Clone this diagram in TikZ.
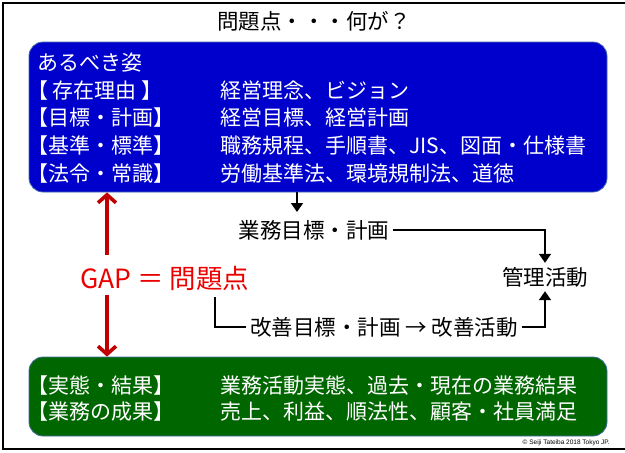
\documentclass[tikz,border=0pt]{standalone}
\usepackage{fontspec}
\setmainfont{Noto Sans CJK JP}
\newfontfamily\notefont{Liberation Sans}
\usetikzlibrary{arrows.meta,positioning}
\definecolor{idealblue}{RGB}{0,0,204}
\definecolor{actualgreen}{RGB}{0,102,0}
\definecolor{boxedge}{RGB}{70,110,170}
\definecolor{gapred}{RGB}{235,0,0}
\definecolor{arrowred}{RGB}{192,0,0}

\begin{document}
\begin{tikzpicture}[x=1pt,y=-1pt]
\tikzstyle{panel}=[draw=boxedge,line width=0.8pt,rounded corners=14pt,minimum width=578pt,inner sep=0pt]
\tikzstyle{boxtext}=[text=white,anchor=west,inner sep=0pt,font=\fontsize{21}{24}\selectfont]
\tikzstyle{flowtext}=[font=\fontsize{21.5}{26}\selectfont,inner sep=4pt]
\tikzstyle{flow}=[line width=1.8pt,-{Triangle[length=9pt,width=12pt]}]
\tikzstyle{gaparrow}=[draw=arrowred,line width=3.6pt,-{Straight Barb[length=8pt,width=18pt]}]

\useasboundingbox (0,0) rectangle (625,453);
\draw[line width=2pt] (625,3) -- (3,3) -- (3,449) -- (625,449);

\node (title) at (314,21) [font=\fontsize{21.5}{26}\selectfont] {問題点・・・何が？};

% ideal state
\node [panel,fill=idealblue,minimum height=150pt] (ideal) at (318,117) {};
\node [boxtext] (ideal0) at (37,63) {あるべき姿};
\node [boxtext] (reason) at (27,91) {【 存在理由 】};
\node [boxtext] (goal) at (27,118) {【目標・計画】};
\node [boxtext] (norm) at (27,146) {【基準・標準】};
\node [boxtext] (law) at (27,174) {【法令・常識】};
\node [boxtext] (reasonv) at (220,91) {経営理念、ビジョン};
\node [boxtext] (goalv) at (220,118) {経営目標、経営計画};
\node [boxtext] (normv) at (220,146) {職務規程、手順書、JIS、図面・仕様書};
\node [boxtext] (lawv) at (220,174) {労働基準法、環境規制法、道徳};

% actual state
\node [panel,fill=actualgreen,minimum height=79pt] (actual) at (318,396.5) {};
\node [boxtext] (fact) at (27,386) {【実態・結果】};
\node [boxtext] (outcome) at (27,412) {【業務の成果】};
\node [boxtext] (factv) at (220,386) {業務活動実態、過去・現在の業務結果};
\node [boxtext] (outcomev) at (220,412) {売上、利益、順法性、顧客・社員満足};

% flow
\node [flowtext] (plan) at (314,230) {業務目標・計画};
\node [flowtext] (kanri) at (545,277) {管理活動};
\node [flowtext] (kaizen) at (384,327) {改善目標・計画 → 改善活動};
\node [flowtext,text=gapred,font=\fontsize{26.5}{30}\selectfont] (gap) at (165,278) {GAP ＝ 問題点};

\coordinate (a1) at (297,212);
\coordinate (k0) at (215,297);
\coordinate (g1) at (107,255);
\coordinate (g2) at (107,295);

\draw [flow] (ideal.south -| a1) -- (a1);
\draw [flow] (plan.east) -| (kanri.north);
\draw [line width=1.8pt] (k0) |- (kaizen.west);
\draw [flow] (kaizen.east) -| (kanri.south);

\draw [gaparrow] (g1) -- (ideal.south -| g1);
\draw [gaparrow] (g2) -- (actual.north -| g2);

\node [anchor=east,inner sep=0pt,font=\notefont\fontsize{6.5}{8}\selectfont] (note) at (610,443) {© Seiji Tateiba 2018 Tokyo JP.};
\end{tikzpicture}
\end{document}
